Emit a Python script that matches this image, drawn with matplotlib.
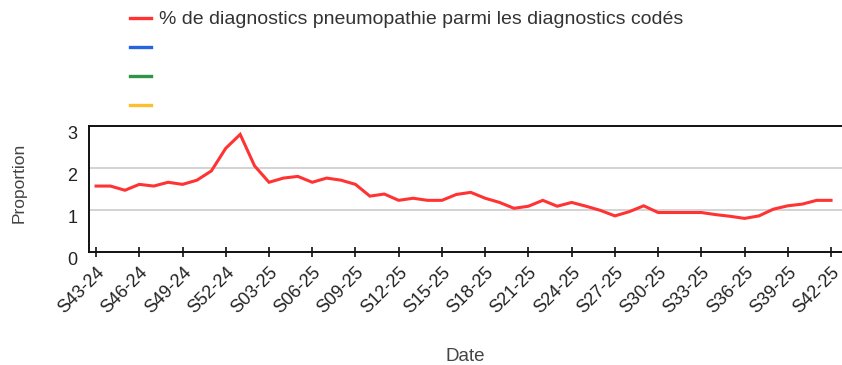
import matplotlib.pyplot as plt
from matplotlib.lines import Line2D

# weekly share of pneumonia diagnoses (%), S43-24 .. S42-25
weeks = ['S%02d-24' % w for w in range(43, 53)] + ['S%02d-25' % w for w in range(1, 43)]
pneumo = [1.57, 1.57, 1.47, 1.61, 1.57, 1.66, 1.61, 1.71, 1.93, 2.47,
          2.80, 2.05, 1.66, 1.76, 1.80, 1.66, 1.76, 1.71, 1.61, 1.33,
          1.38, 1.23, 1.28, 1.23, 1.23, 1.37, 1.42, 1.28, 1.18, 1.04,
          1.09, 1.23, 1.09, 1.18, 1.09, 0.99, 0.86, 0.96, 1.10, 0.94,
          0.94, 0.94, 0.94, 0.89, 0.85, 0.80, 0.86, 1.02, 1.10, 1.14,
          1.23, 1.23]
series_labels = ['% de diagnostics pneumopathie parmi les diagnostics codés', '', '', '']
series_colors = ['#ff3333', '#2563e0', '#2e9446', '#fbc02d']

plt.rcParams['font.family'] = ['Liberation Sans', 'DejaVu Sans']

fig = plt.figure(figsize=(8.42, 3.65), dpi=100)
ax = fig.add_axes([89 / 842, 1 - 252 / 365, 1 - 89 / 842, 126 / 365])

x = list(range(len(weeks)))
ax.plot(x, pneumo, color=series_colors[0], lw=2.2, solid_joinstyle='miter', zorder=3)

ax.set_xlim(-0.49, len(weeks) - 1 + 0.76)
ax.set_ylim(0, 3)
ax.set_yticks([0, 1, 2, 3])
ax.grid(axis='y', color='#cccccc', lw=1.2)
ax.set_axisbelow(True)

ax.set_xticks(x[::3])
ax.set_xticklabels(weeks[::3], rotation=45, ha='right', rotation_mode='anchor',
                   fontsize=13, color='#222222')
ax.tick_params(axis='x', direction='inout', length=7.5, width=1.3, color='#222222', pad=5)
ax.tick_params(axis='y', length=0, pad=8.5, labelsize=13, labelcolor='#222222')
# y labels hang just below their gridline
for lab in ax.get_yticklabels():
    lab.set_verticalalignment('top')

for side in ['left', 'top', 'bottom']:
    ax.spines[side].set_color('#111111')
    ax.spines[side].set_linewidth(1.4)
ax.spines['right'].set_visible(False)

ax.set_ylabel('Proportion', fontsize=12.5, color='#444444')
ax.yaxis.set_label_coords(-0.083, 0.548)
ax.set_xlabel('Date', fontsize=13.5, color='#444444', va='top')
ax.xaxis.set_label_coords(0.5, -0.76)

handles = [Line2D([], [], color=c, lw=2.4) for c in series_colors]
fig.legend(handles, series_labels, loc='upper left', bbox_to_anchor=(122 / 842, 1 - 3 / 365),
           borderaxespad=0, frameon=False, fontsize=14, handlelength=1.1, handletextpad=0.38,
           labelspacing=0.6, labelcolor='#333333')

fig.savefig('out.png', dpi=100)
